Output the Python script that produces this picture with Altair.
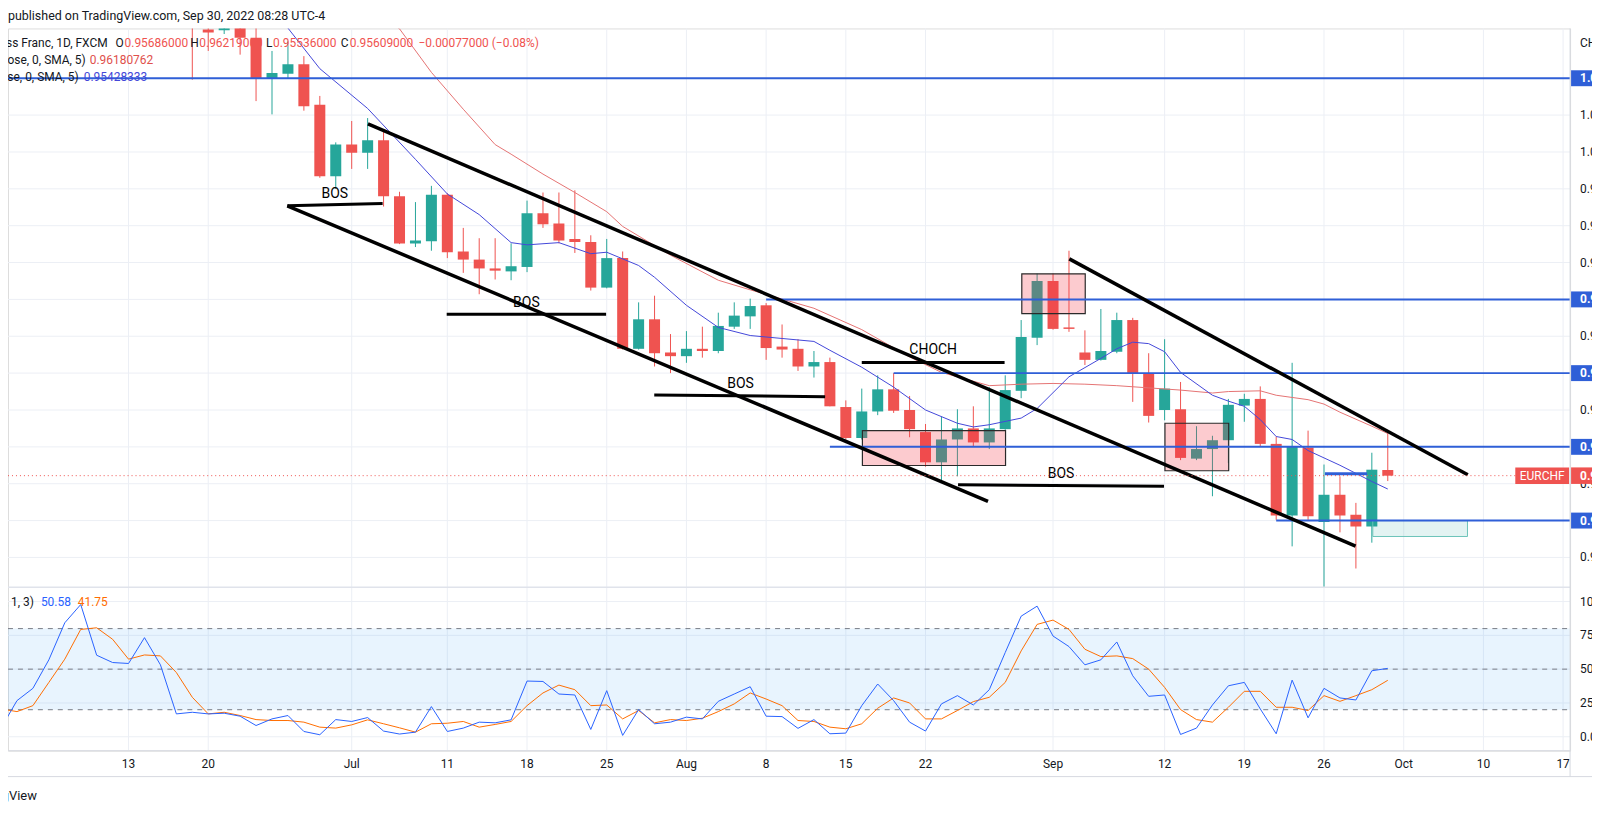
import altair as alt
import pandas as pd

# ---------------- data (trading-day index: Jun 1 2022 = 0) ----------------
day = list(range(12, 88))
open_ = [1.0215, 1.0166, 1.0165, 1.0175, 1.0155, 1.0100, 1.0106, 1.0119, 1.0064, 0.9967,
         1.0010, 0.9999, 1.0016, 0.9940, 0.9876, 0.9879, 0.9942, 0.9865, 0.9854, 0.9842,
         0.9838, 0.9844, 0.9917, 0.9903, 0.9882, 0.9878, 0.9816, 0.9856, 0.9733, 0.9773,
         0.9728, 0.9723, 0.9733, 0.9730, 0.9763, 0.9777, 0.9792, 0.9736, 0.9733, 0.9709,
         0.9715, 0.9654, 0.9612, 0.9648, 0.9678, 0.9650, 0.9620, 0.9579, 0.9610, 0.9625,
         0.9606, 0.9624, 0.9676, 0.9748, 0.9825, 0.9762, 0.9728, 0.9718, 0.9729, 0.9772,
         0.9700, 0.9650, 0.9651, 0.9584, 0.9597, 0.9609, 0.9656, 0.9665, 0.9604, 0.9507,
         0.9599, 0.9498, 0.9535, 0.9508, 0.9492, 0.95686]
high = [1.0240, 1.0185, 1.0190, 1.0190, 1.0170, 1.0137, 1.0150, 1.0130, 1.0076, 1.0013,
        1.0042, 1.0046, 1.0031, 0.9946, 0.9932, 0.9954, 0.9944, 0.9897, 0.9883, 0.9883,
        0.9876, 0.9934, 0.9945, 0.9945, 0.9948, 0.9887, 0.9882, 0.9865, 0.9796, 0.9805,
        0.9753, 0.9757, 0.9763, 0.9782, 0.9796, 0.9801, 0.9795, 0.9766, 0.9746, 0.9730,
        0.9721, 0.9663, 0.9679, 0.9697, 0.9700, 0.9669, 0.9631, 0.9641, 0.9651, 0.9655,
        0.9681, 0.9697, 0.9772, 0.9835, 0.9835, 0.9866, 0.9758, 0.9787, 0.9782, 0.9775,
        0.9727, 0.9746, 0.9688, 0.9628, 0.9615, 0.9665, 0.9672, 0.9682, 0.9614, 0.9714,
        0.9622, 0.9576, 0.9560, 0.9524, 0.9592, 0.96219]
low = [1.0098, 1.0137, 1.0160, 1.0132, 1.0069, 1.0051, 1.0100, 1.0056, 0.9965, 0.9950,
       0.9977, 0.9977, 0.9926, 0.9875, 0.9871, 0.9866, 0.9856, 0.9836, 0.9807, 0.9827,
       0.9826, 0.9837, 0.9897, 0.9876, 0.9863, 0.9812, 0.9815, 0.9732, 0.9732, 0.9709,
       0.9700, 0.9714, 0.9721, 0.9727, 0.9760, 0.9760, 0.9718, 0.9721, 0.9703, 0.9694,
       0.9655, 0.9610, 0.9610, 0.9643, 0.9646, 0.9613, 0.9573, 0.9553, 0.9560, 0.9600,
       0.9597, 0.9623, 0.9666, 0.9738, 0.9759, 0.9756, 0.9711, 0.9717, 0.9727, 0.9661,
       0.9633, 0.9636, 0.9582, 0.9582, 0.9533, 0.9578, 0.9634, 0.9601, 0.9501, 0.9465,
       0.9501, 0.9409, 0.9484, 0.9435, 0.9470, 0.95536]
close = [1.0172, 1.0162, 1.0172, 1.0155, 1.0100, 1.0107, 1.0119, 1.0062, 0.9967, 1.0010,
         0.9999, 1.0016, 0.9940, 0.9876, 0.9880, 0.9942, 0.9864, 0.9854, 0.9842, 0.9839,
         0.9845, 0.9917, 0.9902, 0.9880, 0.9878, 0.9816, 0.9856, 0.9733, 0.9773, 0.9727,
         0.9723, 0.9733, 0.9730, 0.9764, 0.9778, 0.9791, 0.9734, 0.9732, 0.9709, 0.9715,
         0.9655, 0.9612, 0.9648, 0.9678, 0.9649, 0.9624, 0.9579, 0.9610, 0.9625, 0.9606,
         0.9625, 0.9677, 0.9749, 0.9825, 0.9760, 0.9760, 0.9718, 0.9730, 0.9772, 0.9700,
         0.9642, 0.9679, 0.9585, 0.9597, 0.9609, 0.9657, 0.9665, 0.9604, 0.9507, 0.9600,
         0.9506, 0.9535, 0.9507, 0.9492, 0.9569, 0.95609]

fast_day = [17, 18, 20, 23, 26, 28, 30, 32, 33, 35, 37, 38, 40, 41, 43, 45, 47, 49, 51, 52,
            54, 56, 58, 60, 61, 62, 64, 65, 67, 69, 70, 71, 72, 73, 74, 76, 77, 78, 79, 80,
            81, 82, 84, 85, 86, 87]
fast_val = [1.0195, 1.0168, 1.0113, 1.0059, 0.9990, 0.9943, 0.9915, 0.9877, 0.9874, 0.9877,
            0.9862, 0.9864, 0.9846, 0.9830, 0.9792, 0.9762, 0.9751, 0.9747, 0.9743, 0.9731,
            0.9708, 0.9681, 0.9650, 0.9632, 0.9627, 0.9630, 0.9639, 0.9652, 0.9695, 0.9720,
            0.9733, 0.9742, 0.9740, 0.9729, 0.9701, 0.9670, 0.9662, 0.9655, 0.9637, 0.9614,
            0.9610, 0.9595, 0.9575, 0.9564, 0.9553, 0.95428]
slow_day = [24, 25, 27, 29, 31, 32, 34, 36, 38, 39, 42, 45, 47, 51, 54, 57, 59, 62, 64, 66,
            68, 70, 72, 74, 76, 77, 79, 80, 82, 83, 84, 86, 87]
slow_val = [1.0185, 1.0167, 1.0108, 1.0058, 1.0010, 0.9997, 0.9970, 0.9945, 0.9919, 0.9899,
            0.9860, 0.9826, 0.9813, 0.9788, 0.9759, 0.9722, 0.9701, 0.9683, 0.9685, 0.9686,
            0.9685, 0.9683, 0.9680, 0.9677, 0.9673, 0.9675, 0.9676, 0.9670, 0.9664, 0.9658,
            0.9647, 0.9628, 0.96181]

stoch_k = [6.4, 26.7, 35.8, 56.9, 84.3, 97.8, 60.3, 54.9, 54.2, 73.3,
           53.2, 16.9, 18.1, 16.9, 17.4, 15.2, 8.3, 13.2, 15.7, 3.9,
           1.5, 12.7, 11.3, 14.2, 4.2, 2.0, 3.4, 22.3, 3.9, 6.4,
           10.8, 10.3, 12.5, 41.2, 40.9, 31.6, 30.9, 5.4, 34.1, 1.0,
           20.1, 9.6, 10.8, 14.5, 13.2, 26.2, 31.6, 37.0, 15.2, 14.9,
           6.2, 12.7, 2.2, 2.7, 23.0, 39.0, 26.7, 10.8, 4.2, 24.3,
           30.4, 23.5, 34.8, 62.3, 89.2, 96.6, 74.5, 66.7, 53.2, 56.9,
           70.1, 45.1, 29.9, 30.9, 1.7, 6.4, 23.5, 37.7, 40.2, 20.6,
           2.2, 41.9, 14.0, 35.8, 28.7, 27.2, 48.8, 50.58]
stoch_d = [20.6, 18.6, 23.0, 40.2, 57.4, 79.4, 80.6, 72.1, 57.4, 60.5,
           59.8, 47.5, 29.2, 16.9, 18.1, 15.7, 12.7, 12.0, 12.0, 10.8,
           7.1, 6.4, 8.8, 12.5, 9.6, 6.6, 3.4, 9.6, 10.0, 11.3,
           7.1, 9.1, 11.3, 23.0, 32.4, 38.2, 34.8, 23.0, 23.5, 13.2,
           19.4, 10.3, 12.7, 12.0, 13.7, 18.6, 24.3, 32.4, 27.9, 23.0,
           12.0, 11.3, 7.1, 5.9, 9.6, 21.1, 28.7, 25.0, 13.2, 13.2,
           19.4, 26.0, 29.2, 40.2, 63.5, 83.1, 86.3, 79.4, 64.7, 59.3,
           59.8, 57.8, 50.0, 36.5, 20.1, 12.7, 10.8, 21.8, 33.6, 33.6,
           21.8, 21.8, 19.4, 30.4, 26.2, 30.4, 34.8, 41.75]

# horizontal levels (rays starting at a trading day)
level_price = [1.010, 0.980, 0.970, 0.960, 0.950]
level_start = [0.0, 48, 56, 52, 80]

# channel trend lines
trend_d1 = [23.02, 17.96, 67.02]
trend_p1 = [1.00382, 0.99270, 0.98550]
trend_d2 = [84.98, 61.92, 92.02]
trend_p2 = [0.94653, 0.95261, 0.95622]

# structure lines (BOS / CHOCH)
seg_d1 = [17.96, 27.96, 40.98, 54.0, 60.04]
seg_p1 = [0.99270, 0.97797, 0.96703, 0.97145, 0.95486]
seg_d2 = [23.94, 37.96, 51.70, 62.96, 72.96]
seg_p2 = [0.99301, 0.97797, 0.96680, 0.97145, 0.95464]
lab_text = ["BOS", "BOS", "BOS", "CHOCH", "BOS"]
lab_day = [20.94, 32.96, 46.4, 58.48, 66.5]
lab_price = [0.99436, 0.97950, 0.96851, 0.97311, 0.95631]

# order-block boxes
box_d1 = [54.04, 64.04, 73.02]
box_d2 = [63.02, 68.02, 77.02]
box_p1 = [0.96220, 0.98347, 0.96320]
box_p2 = [0.95747, 0.97807, 0.95676]
teal_d = [86.06, 92.0]
teal_p = [0.950, 0.94784]
mark_d = [83.06, 85.7]
mark_p = [0.95635]

price_ticks = [0.945, 0.950, 0.955, 0.960, 0.965, 0.970, 0.975, 0.980, 0.985,
               0.990, 0.995, 1.000, 1.005, 1.010]
stoch_ticks = [0, 25, 50, 75, 100]
tick_day = [8, 13, 22, 28, 33, 38, 43, 48, 53, 58, 66, 73, 78, 83, 88, 93, 98]
tick_text = ["13", "20", "Jul", "11", "18", "25", "Aug", "8", "15", "22", "Sep",
             "12", "19", "26", "Oct", "10", "17"]
last_close = 0.95609

# ---------------- styling / layout ----------------
FONT = "Roboto"
INK = "#131722"
UP = "#26a69a"
DOWN = "#ef5350"
LEVEL = "#2f5fd7"
FAST = "#4347d9"
SLOW = "#e57373"
GRID = "#eceff5"
BORDER = "#d6d9e0"

W, H = 1568, 725
X_MIN, X_MAX = 7 / 16, 1575 / 16
P_MIN, P_MAX = 0.960 - 305 / 7400, 0.960 + 420 / 7400
S_MIN, S_MAX = -14 / 1.357, 711 / 1.357

xs = alt.Scale(domain=[X_MIN, X_MAX], nice=False, zero=False)
ps = alt.Scale(domain=[P_MIN, P_MAX], nice=False, zero=False)
ss = alt.Scale(domain=[S_MIN, S_MAX], nice=False, zero=False)

one = pd.DataFrame({"a": [0]})


def X(field):
    return alt.X(field, scale=xs, axis=None)


def PY(field):
    return alt.Y(field, scale=ps, axis=None)


def SY(field):
    return alt.Y(field, scale=ss, axis=None)


def txt(s, x, y, color=INK, size=12, align="left", weight="normal"):
    return alt.Chart(pd.DataFrame({"t": [s]})).mark_text(
        align=align, baseline="middle", fontSize=size, fontWeight=weight,
        color=color, font=FONT).encode(x=alt.value(x), y=alt.value(y), text="t:N")


def hline(px_y, x0, x1, color=BORDER, width=1):
    return alt.Chart(one).mark_rule(color=color, strokeWidth=width).encode(
        x=alt.value(x0), x2=alt.value(x1), y=alt.value(px_y))


# ---------------- grid & axis texts (drawn through the scales) ----------------
xt = pd.DataFrame({"d": tick_day, "t": tick_text})
grid_v = alt.Chart(xt).mark_rule(color=GRID, strokeWidth=1).encode(
    x=X("d:Q"), y=alt.value(0), y2=alt.value(H))
x_labels = alt.Chart(xt).mark_text(font=FONT, fontSize=12, color=INK, align="center",
                                   baseline="middle").encode(
    x=X("d:Q"), y=alt.value(H + 13), text="t:N")

pt = pd.DataFrame({"p": price_ticks, "t": [f"{v:.5f}" for v in price_ticks]})
grid_p = alt.Chart(pt).mark_rule(color=GRID, strokeWidth=1).encode(
    x=alt.value(0), x2=alt.value(W), y=PY("p:Q"))
p_labels = alt.Chart(pt).mark_text(font=FONT, fontSize=12, color=INK, align="left",
                                   baseline="middle").encode(
    x=alt.value(1578), y=PY("p:Q"), text="t:N")

stt = pd.DataFrame({"v": stoch_ticks, "t": [f"{v:.2f}" for v in stoch_ticks]})
grid_s = alt.Chart(stt).mark_rule(color=GRID, strokeWidth=1).encode(
    x=alt.value(0), x2=alt.value(W), y=SY("v:Q"))
s_labels = alt.Chart(stt).mark_text(font=FONT, fontSize=12, color=INK, align="left",
                                    baseline="middle").encode(
    x=alt.value(1578), y=SY("v:Q"), text="t:N")

# ---------------- price pane ----------------
candles = pd.DataFrame({"day": day, "open": open_, "high": high, "low": low, "close": close})
updown = alt.condition("datum.close >= datum.open", alt.value(UP), alt.value(DOWN))

wicks = alt.Chart(candles).mark_rule(strokeWidth=1, clip=True).encode(
    x=X("day:Q"), y=PY("low:Q"), y2="high:Q", color=updown)

bodies = alt.Chart(candles).transform_calculate(
    x0="datum.day - 0.345", x1="datum.day + 0.345"
).mark_rect(clip=True).encode(
    x=X("x0:Q"), x2="x1:Q", y=PY("open:Q"), y2="close:Q", color=updown)

fast = alt.Chart(pd.DataFrame({"day": fast_day, "v": fast_val})).mark_line(
    color=FAST, strokeWidth=1, clip=True).encode(x=X("day:Q"), y=PY("v:Q"))
slow = alt.Chart(pd.DataFrame({"day": slow_day, "v": slow_val})).mark_line(
    color=SLOW, strokeWidth=1, clip=True).encode(x=X("day:Q"), y=PY("v:Q"))

boxes = alt.Chart(pd.DataFrame({"d1": box_d1, "d2": box_d2, "p1": box_p1, "p2": box_p2})).mark_rect(
    fill="#f23645", fillOpacity=0.26, stroke="#2a2a2a", strokeWidth=1.2, clip=True).encode(
    x=X("d1:Q"), x2="d2:Q", y=PY("p1:Q"), y2="p2:Q")

teal = alt.Chart(pd.DataFrame({"d1": [teal_d[0]], "d2": [teal_d[1]],
                               "p1": [teal_p[0]], "p2": [teal_p[1]]})).mark_rect(
    fill="#26a69a", fillOpacity=0.13, stroke="#6cc4ba", strokeWidth=1, clip=True).encode(
    x=X("d1:Q"), x2="d2:Q", y=PY("p1:Q"), y2="p2:Q")

levels = alt.Chart(pd.DataFrame({"start": level_start, "p": level_price})).transform_calculate(
    end=str(X_MAX)).mark_rule(color=LEVEL, strokeWidth=2, clip=True).encode(
    x=X("start:Q"), x2="end:Q", y=PY("p:Q"))

short_mark = alt.Chart(pd.DataFrame({"d1": [mark_d[0]], "d2": [mark_d[1]], "p": mark_p})).mark_rule(
    color=LEVEL, strokeWidth=3, clip=True).encode(x=X("d1:Q"), x2="d2:Q", y=PY("p:Q"))

trends = alt.Chart(pd.DataFrame({"d1": trend_d1, "p1": trend_p1, "d2": trend_d2, "p2": trend_p2})).mark_rule(
    color="black", strokeWidth=3.5, clip=True).encode(
    x=X("d1:Q"), x2="d2:Q", y=PY("p1:Q"), y2="p2:Q")

segs = alt.Chart(pd.DataFrame({"d1": seg_d1, "p1": seg_p1, "d2": seg_d2, "p2": seg_p2})).mark_rule(
    color="black", strokeWidth=3, clip=True).encode(
    x=X("d1:Q"), x2="d2:Q", y=PY("p1:Q"), y2="p2:Q")

labels = alt.Chart(pd.DataFrame({"t": lab_text, "d": lab_day, "p": lab_price})).mark_text(
    fontSize=14, font=FONT, color="black", align="center", baseline="middle").encode(
    x=X("d:Q"), y=PY("p:Q"), text="t:N")

cur = pd.DataFrame({"p": [last_close], "t": [f"{last_close:.5f}"], "n": ["EURCHF"]})
cur_line = alt.Chart(cur).mark_rule(color=DOWN, strokeWidth=1, strokeDash=[1, 3]).encode(
    x=alt.value(0), x2=alt.value(1513), y=PY("p:Q"))
cur_tag = alt.Chart(cur).transform_calculate(
    hi="datum.p + 0.00112", lo="datum.p - 0.00112").mark_rect(color=DOWN).encode(
    x=alt.value(1513), x2=alt.value(1567), y=PY("hi:Q"), y2="lo:Q")
cur_tag_txt = alt.Chart(cur).mark_text(color="white", fontSize=12, font=FONT,
                                       align="center", baseline="middle").encode(
    x=alt.value(1540), y=PY("p:Q"), text="n:N")
cur_axis = alt.Chart(cur).transform_calculate(
    hi="datum.p + 0.00112", lo="datum.p - 0.00112").mark_rect(color=DOWN).encode(
    x=alt.value(1569), x2=alt.value(1600), y=PY("hi:Q"), y2="lo:Q")
cur_axis_txt = alt.Chart(cur).mark_text(color="white", fontSize=12, font=FONT, fontWeight="bold",
                                        align="left", baseline="middle").encode(
    x=alt.value(1578), y=PY("p:Q"), text="t:N")

lvl = pd.DataFrame({"p": level_price, "t": [f"{v:.5f}" for v in level_price]})
lvl_tag = alt.Chart(lvl).transform_calculate(
    hi="datum.p + 0.00108", lo="datum.p - 0.00108").mark_rect(color=LEVEL).encode(
    x=alt.value(1569), x2=alt.value(1600), y=PY("hi:Q"), y2="lo:Q")
lvl_txt = alt.Chart(lvl).mark_text(color="white", fontSize=12, font=FONT, fontWeight="bold",
                                   align="left", baseline="middle").encode(
    x=alt.value(1578), y=PY("p:Q"), text="t:N")

main = alt.layer(grid_p, p_labels, wicks, bodies, slow, fast, boxes, teal, levels, short_mark,
                 trends, segs, labels, cur_line, cur_tag, cur_tag_txt, cur_axis, cur_axis_txt,
                 lvl_tag, lvl_txt)

# ---------------- stochastic pane ----------------
st = pd.DataFrame({"day": list(range(len(stoch_k))), "k": stoch_k, "d": stoch_d})
band = alt.Chart(pd.DataFrame({"lo": [20], "hi": [80]})).mark_rect(
    color="#2196f3", opacity=0.1).encode(
    x=alt.value(0), x2=alt.value(W), y=SY("lo:Q"), y2="hi:Q")
dashes = alt.Chart(pd.DataFrame({"v": [20, 50, 80]})).mark_rule(
    color="#787b86", strokeWidth=1, strokeDash=[5, 5]).encode(
    x=alt.value(0), x2=alt.value(W), y=SY("v:Q"))
d_line = alt.Chart(st).mark_line(color="#ff6d00", strokeWidth=1, clip=True).encode(
    x=X("day:Q"), y=SY("d:Q"))
k_line = alt.Chart(st).mark_line(color="#2962ff", strokeWidth=1, clip=True).encode(
    x=X("day:Q"), y=SY("k:Q"))
stoch = alt.layer(grid_s, s_labels, band, dashes, d_line, k_line)

# ---------------- frame & texts ----------------
frame = alt.layer(
    hline(561, 0, W, color="#e0e3eb", width=1.5),
    hline(H, 0, W),
    hline(751, 0, 1600),
    alt.Chart(one).mark_rule(color=BORDER).encode(
        x=alt.value(W), y=alt.value(0), y2=alt.value(751)),
    txt("published on TradingView.com, Sep 30, 2022 08:28 UTC-4", 0, -12, size=12.5),
    txt("Euro / Swiss Franc, 1D, FXCM", 100, 15, align="right"),
    txt("O", 108, 15), txt("0.95686000", 117, 15, color=DOWN),
    txt("H", 183, 15), txt("0.96219000", 192, 15, color=DOWN),
    txt("L", 259, 15), txt("0.95536000", 266, 15, color=DOWN),
    txt("C", 334, 15), txt("0.95609000", 343, 15, color=DOWN),
    txt("\u22120.00077000 (\u22120.08%)", 412, 15, color=DOWN),
    txt("close, 0, SMA, 5)", 78, 32, align="right"),
    txt("0.96180762", 82, 32, color="#e0504c"),
    txt("close, 0, SMA, 5)", 71, 49, align="right"),
    txt("0.95428333", 76, 49, color=FAST),
    txt("CHF", 1578, 15),
    txt("Stoch (14, 1, 3)", 26, 576, align="right"),
    txt("50.58", 33, 576, color="#2962ff"),
    txt("41.75", 70, 576, color="#ff6d00"),
    txt("TradingView", 29, 770, size=13, align="right"),
)

chart = alt.layer(grid_v, x_labels, stoch, main, frame).resolve_scale(y="independent").properties(
    width=W, height=H,
    autosize=alt.AutoSizeParams(type="none"),
    padding={"left": 0, "top": 19, "right": 22, "bottom": 52},
).configure_view(stroke=None).configure(background="white")

chart.save("out.html", embed_options={"renderer": "svg", "actions": False})
